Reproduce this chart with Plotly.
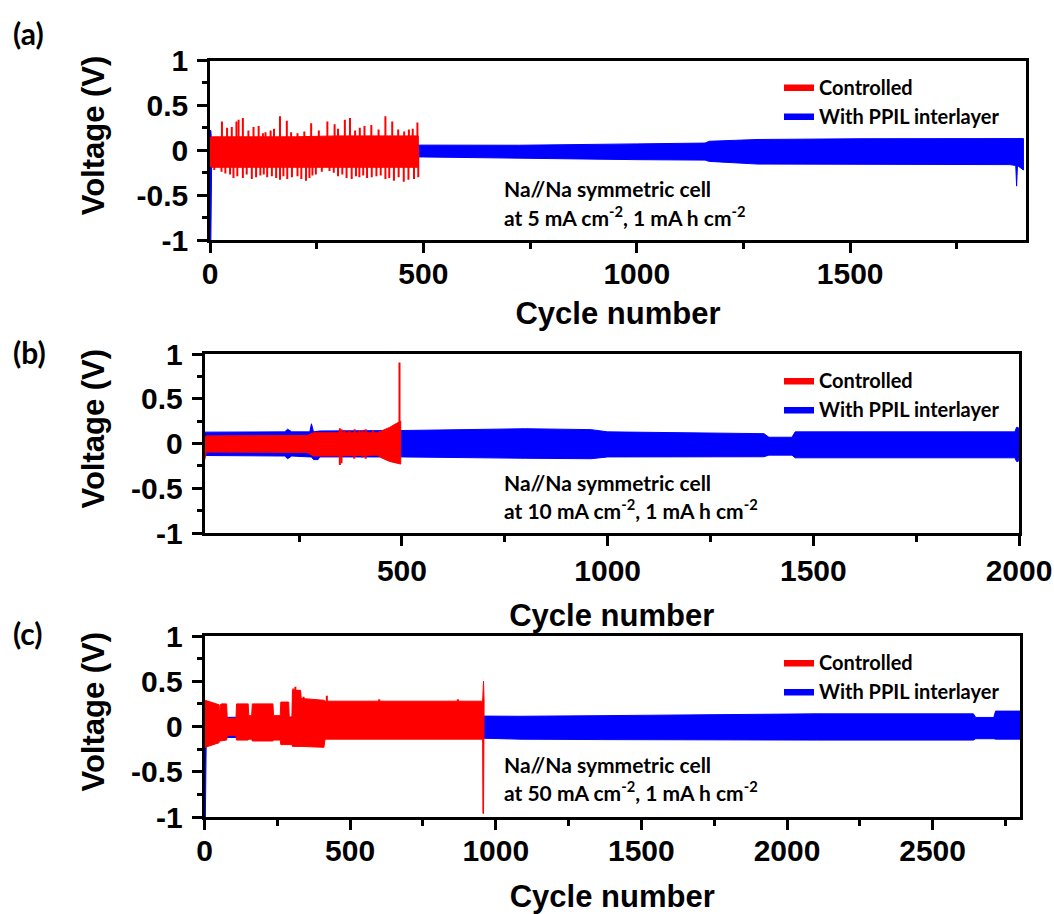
import plotly.graph_objects as go

# ---------------- data ----------------
# Panel (a): Na//Na at 5 mA cm-2
a_ctrl_cyc = [0, 5, 100, 200, 300, 400, 488]
a_ctrl_hi = [0.14, 0.15, 0.15, 0.15, 0.16, 0.16, 0.16]
a_ctrl_lo = [-0.18, -0.19, -0.19, -0.19, -0.19, -0.19, -0.19]
a_ctrl_up_cyc = [28, 40, 51, 62, 67, 77, 90, 102, 114, 124, 130, 142, 150, 164, 180, 190, 205,
                 221, 237, 255, 275, 292, 300, 316, 328, 340, 351, 362, 378, 395, 411, 427,
                 441, 455, 466, 475, 486]
a_ctrl_up_v = [0.32, 0.25, 0.26, 0.32, 0.34, 0.36, 0.22, 0.26, 0.27, 0.19, 0.20, 0.22, 0.24, 0.38,
               0.33, 0.20, 0.19, 0.21, 0.30, 0.22, 0.32, 0.29, 0.24, 0.34, 0.36, 0.22, 0.25,
               0.27, 0.28, 0.23, 0.38, 0.32, 0.23, 0.21, 0.23, 0.24, 0.31]
a_ctrl_dn_cyc = [10, 27, 36, 47, 55, 64, 77, 86, 98, 108, 118, 126, 134, 145, 155, 164, 172, 181,
                 192, 205, 214, 225, 233, 240, 248, 262, 280, 290, 300, 310, 320, 332, 342, 350,
                 359, 368, 379, 390, 400, 411, 420, 431, 442, 454, 465, 478, 488]
a_ctrl_dn_v = [-0.22, -0.24, -0.26, -0.27, -0.31, -0.29, -0.31, -0.27, -0.32, -0.30, -0.28, -0.27,
               -0.30, -0.29, -0.31, -0.33, -0.29, -0.32, -0.30, -0.29, -0.32, -0.34, -0.31, -0.28,
               -0.27, -0.24, -0.23, -0.25, -0.29, -0.27, -0.31, -0.32, -0.29, -0.30, -0.28, -0.31,
               -0.30, -0.29, -0.28, -0.32, -0.31, -0.34, -0.30, -0.35, -0.33, -0.32, -0.30]
a_ppil_cyc = [0, 2, 4, 500, 725, 1000, 1160, 1170, 1284, 1523, 1874, 1888, 1890, 1892, 1900, 1906]
a_ppil_hi = [0.22, 0.22, 0.06, 0.056, 0.056, 0.071, 0.08, 0.10, 0.12, 0.128, 0.128, 0.128, 0.128,
             0.128, 0.13, 0.13]
a_ppil_lo = [-1.0, -1.0, -0.07, -0.075, -0.086, -0.105, -0.11, -0.124, -0.154, -0.154, -0.16,
             -0.17, -0.40, -0.17, -0.20, -0.22]

# Panel (b): Na//Na at 10 mA cm-2
b_ctrl_cyc = [20, 21, 24, 100, 270, 285, 340, 440, 450, 470, 485, 497]
b_ctrl_hi = [0.05, 0.05, 0.085, 0.085, 0.09, 0.12, 0.12, 0.12, 0.14, 0.18, 0.22, 0.25]
b_ctrl_lo = [-0.18, -0.18, -0.095, -0.095, -0.10, -0.14, -0.14, -0.13, -0.16, -0.20, -0.22, -0.23]
b_ctrl_up_cyc = [349, 353, 360, 372, 385, 397, 404, 412, 430, 494]
b_ctrl_up_v = [0.17, 0.16, 0.15, 0.15, 0.16, 0.15, 0.15, 0.16, 0.15, 0.906]
b_ctrl_dn_cyc = [349, 353, 384, 404, 412]
b_ctrl_dn_v = [-0.24, -0.22, -0.17, -0.16, -0.17]
b_ppil_cyc = [20, 215, 222, 232, 276, 280, 285, 296, 300, 500, 800, 960, 1000,
              1380, 1392, 1448, 1456, 1990, 1994, 1998, 2000]
b_ppil_hi = [0.127, 0.13, 0.16, 0.13, 0.13, 0.22, 0.13, 0.14, 0.14, 0.145, 0.165,
             0.155, 0.13, 0.11, 0.07, 0.07, 0.13, 0.13, 0.18, 0.18, 0.13]
b_ppil_lo = [-0.134, -0.14, -0.17, -0.14, -0.15, -0.15, -0.18, -0.18, -0.15,
             -0.15, -0.165, -0.17, -0.15, -0.148, -0.13, -0.13, -0.16, -0.16, -0.20, -0.20, -0.16]

# Panel (c): Na//Na at 50 mA cm-2
c_ctrl_cyc = [0, 2, 50, 52, 54, 58, 76, 78, 108, 110, 150, 152, 162, 164, 235, 237, 260, 262,
              289, 291, 300, 302, 330, 332, 410, 414, 955, 956, 958, 960]
c_ctrl_hi = [0.29, 0.29, 0.24, 0.10, 0.24, 0.25, 0.25, 0.09, 0.09, 0.25, 0.25, 0.12, 0.12, 0.25,
             0.25, 0.12, 0.12, 0.27, 0.27, 0.10, 0.10, 0.40, 0.40, 0.31, 0.29, 0.28, 0.28, 0.50,
             0.50, 0.28]
c_ctrl_lo = [-0.23, -0.23, -0.18, -0.15, -0.16, -0.16, -0.15, -0.10, -0.10, -0.15, -0.15, -0.14,
             -0.14, -0.16, -0.16, -0.15, -0.15, -0.20, -0.20, -0.20, -0.20, -0.22, -0.22, -0.22,
             -0.23, -0.14, -0.14, -0.96, -0.96, -0.14]
c_ctrl_up_cyc = [305, 312, 318, 326, 340, 420, 600, 870]
c_ctrl_up_v = [0.42, 0.44, 0.40, 0.38, 0.33, 0.34, 0.30, 0.30]
c_ppil_cyc = [0, 3, 6, 960, 1083, 1375, 1738, 2100, 2640, 2648, 2710, 2716, 2800]
c_ppil_hi = [0.10, 0.10, 0.10, 0.115, 0.113, 0.12, 0.13, 0.14, 0.14, 0.10, 0.10, 0.17, 0.17]
c_ppil_lo = [-1.0, -1.0, -0.12, -0.13, -0.14, -0.145, -0.15, -0.15, -0.15, -0.135, -0.135,
             -0.14, -0.14]

# Tick labels
y_tickvals = [-1, -0.5, 0, 0.5, 1]
y_ticktext = ["-1", "-0.5", "0", "0.5", "1"]
y_minor = [-0.75, -0.25, 0.25, 0.75]
a_xticks = [0, 500, 1000, 1500]
a_xminor = [250, 750, 1250, 1750]
b_xticks = [500, 1000, 1500, 2000]
b_xminor = [250, 750, 1250, 1750]
c_xticks = [0, 500, 1000, 1500, 2000, 2500]
c_xminor = [250, 750, 1250, 1750, 2250, 2750]

series_names = ["Controlled", "With PPIL interlayer"]
conditions = ["at 5 mA cm<sup>-2</sup>, 1 mA h cm<sup>-2</sup>",
              "at 10 mA cm<sup>-2</sup>, 1 mA h cm<sup>-2</sup>",
              "at 50 mA cm<sup>-2</sup>, 1 mA h cm<sup>-2</sup>"]
panel_tags = ["(a)", "(b)", "(c)"]

# ---------------- styling ----------------
W, H = 1054, 914
RED = "#FF0000"
BLUE = "#0000FF"
AX_FONT = "Liberation Sans, Arial, sans-serif"
TXT_FONT = "Lato, Open Sans, sans-serif"

# plot boxes in pixels: (left, right, top, bottom)
boxes = [(210, 1026, 60.5, 240), (204.5, 1019, 354, 533), (204.5, 1020, 636, 817)]
xranges = [[0, 1912], [20, 2000], [0, 2800]]
xticks = [a_xticks, b_xticks, c_xticks]
xminors = [a_xminor, b_xminor, c_xminor]
label_standoff = [-5, -1, -5]
title_standoff = [14, 19, 27]
tag_ys = [33, 352, 633]


def band(cyc, hi, lo, color, name, showlegend, xa, ya, legend, rank):
    return go.Scatter(
        x=list(cyc) + list(cyc)[::-1], y=list(hi) + list(lo)[::-1],
        mode="lines", fill="toself", fillcolor=color,
        line=dict(color=color, width=1), name=name, showlegend=showlegend,
        xaxis=xa, yaxis=ya, legend=legend, legendrank=rank, hoverinfo="skip")


def spikes(cyc, vals, color, xa, ya):
    xs, ys = [], []
    for c, v in zip(cyc, vals):
        xs += [c, c, None]
        ys += [0, v, None]
    return go.Scatter(x=xs, y=ys, mode="lines", line=dict(color=color, width=2),
                      showlegend=False, xaxis=xa, yaxis=ya, hoverinfo="skip")


fig = go.Figure()
panels = [
    (a_ppil_cyc, a_ppil_hi, a_ppil_lo, a_ctrl_cyc, a_ctrl_hi, a_ctrl_lo,
     [(a_ctrl_up_cyc, a_ctrl_up_v), (a_ctrl_dn_cyc, a_ctrl_dn_v)]),
    (b_ppil_cyc, b_ppil_hi, b_ppil_lo, b_ctrl_cyc, b_ctrl_hi, b_ctrl_lo,
     [(b_ctrl_up_cyc, b_ctrl_up_v), (b_ctrl_dn_cyc, b_ctrl_dn_v)]),
    (c_ppil_cyc, c_ppil_hi, c_ppil_lo, c_ctrl_cyc, c_ctrl_hi, c_ctrl_lo,
     [(c_ctrl_up_cyc, c_ctrl_up_v)]),
]

for i, (pc, ph, pl, cc, ch, cl, sp) in enumerate(panels):
    xa = "x" if i == 0 else f"x{i+1}"
    ya = "y" if i == 0 else f"y{i+1}"
    lg = "legend" if i == 0 else f"legend{i+1}"
    fig.add_trace(band(pc, ph, pl, BLUE, series_names[1], True, xa, ya, lg, 2))
    fig.add_trace(band(cc, ch, cl, RED, series_names[0], True, xa, ya, lg, 1))
    for scyc, sv in sp:
        fig.add_trace(spikes(scyc, sv, RED, xa, ya))

layout = dict(width=W, height=H, paper_bgcolor="white", plot_bgcolor="white",
              margin=dict(l=0, r=0, t=0, b=0), showlegend=True)
annotations = []
for i, (l, r, t, b) in enumerate(boxes):
    xk = "xaxis" if i == 0 else f"xaxis{i+1}"
    yk = "yaxis" if i == 0 else f"yaxis{i+1}"
    ya = "y" if i == 0 else f"y{i+1}"
    xa = "x" if i == 0 else f"x{i+1}"
    layout[xk] = dict(
        domain=[l / W, r / W], range=xranges[i], anchor=ya,
        showline=True, linecolor="black", linewidth=2.5, mirror=True,
        showgrid=False, zeroline=False,
        ticks="outside", ticklen=10, tickwidth=2.5, tickcolor="black",
        tickmode="array", tickvals=xticks[i], ticktext=[str(v) for v in xticks[i]],
        minor=dict(tickmode="array", tickvals=xminors[i], ticks="outside",
                   ticklen=6, tickwidth=2.5, tickcolor="black", showgrid=False),
        tickfont=dict(family=AX_FONT, size=30, color="black", weight="bold"),
        ticklabelstandoff=label_standoff[i],
        title=dict(text="Cycle number", standoff=title_standoff[i],
                   font=dict(family=AX_FONT, size=31, color="black", weight="bold")),
        automargin=False)
    layout[yk] = dict(
        domain=[1 - b / H, 1 - t / H], range=[-1, 1], anchor=xa,
        showline=True, linecolor="black", linewidth=2.5, mirror=True,
        showgrid=False, zeroline=False,
        ticks="outside", ticklen=10, tickwidth=2.5, tickcolor="black",
        tickmode="array", tickvals=y_tickvals, ticktext=y_ticktext,
        minor=dict(tickmode="array", tickvals=y_minor, ticks="outside",
                   ticklen=5, tickwidth=2.5, tickcolor="black", showgrid=False),
        tickfont=dict(family=AX_FONT, size=30, color="black", weight="bold"),
        ticklabelstandoff=3,
        automargin=False)
    lg = "legend" if i == 0 else f"legend{i+1}"
    layout[lg] = dict(x=779 / W, y=1 - (t + 7) / H, xanchor="left", yanchor="top",
                      bgcolor="rgba(0,0,0,0)", borderwidth=0, tracegroupgap=0,
                      font=dict(family=TXT_FONT, size=20, color="black", weight="bold"))
    # y-axis title
    annotations.append(dict(text="Voltage (V)", x=93 / W, y=1 - (t + b - 30) / 2 / H,
                            xref="paper", yref="paper", showarrow=False, textangle=-90,
                            xanchor="center", yanchor="middle",
                            font=dict(family=AX_FONT, size=31, color="black", weight="bold")))
    # panel tag
    annotations.append(dict(text=panel_tags[i], x=11 / W, y=1 - tag_ys[i] / H, xref="paper",
                            yref="paper", showarrow=False, xanchor="left", yanchor="middle",
                            font=dict(family=TXT_FONT, size=30, color="black", weight="bold")))
    # cell description
    annotations.append(dict(text="Na//Na symmetric cell", x=502 / W, y=1 - (t + 128) / H,
                            xref="paper", yref="paper", showarrow=False, xanchor="left",
                            yanchor="middle",
                            font=dict(family=TXT_FONT, size=21, color="black", weight="bold")))
    annotations.append(dict(text=conditions[i], x=502 / W, y=1 - (t + 155) / H,
                            xref="paper", yref="paper", showarrow=False, xanchor="left",
                            yanchor="middle",
                            font=dict(family=TXT_FONT, size=21, color="black", weight="bold")))

layout["annotations"] = annotations
fig.update_layout(**layout)
fig.write_html("out.html", config={"displayModeBar": False},
               post_script="document.body.style.margin='0';document.body.style.padding='0';")
